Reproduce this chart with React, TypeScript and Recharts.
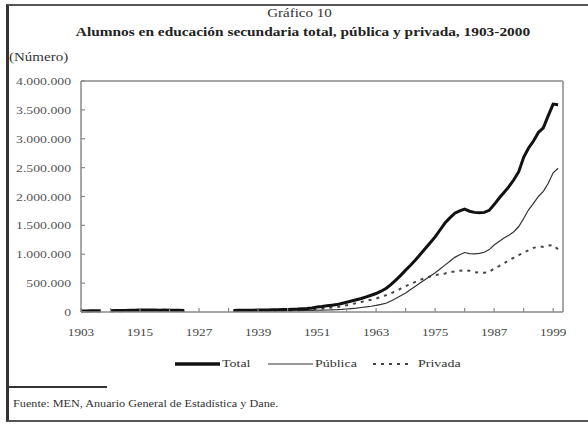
import { LineChart, Line, XAxis, YAxis, ReferenceLine } from "recharts";

const START_YEAR = 1903;

// Alumnos por año, 1903-2000 (null = sin dato)
const total = [
  18000, 19000, 20000, 21000, 20000, null,
  22000, 24000, 26000, 28000, 30000, 32000, 33000, 34000, 34000, 33000, 32000, 33000, 32000, 30000, 29000, 28000,
  null, null, null, null, null, null, null, null, null,
  28000, 29000, 30000, 31000, 32000, 33000, 34000, 36000, 38000, 40000, 42000, 45000, 48000, 50000, 55000, 60000, 70000,
  85000, 95000, 108000, 118000, 128000, 148000, 169000, 190000, 212000, 233000,
  262000, 290000, 320000, 360000, 407000, 475000, 551000, 635000, 725000, 810000,
  899000, 1000000, 1100000, 1200000, 1300000, 1420000, 1540000, 1630000, 1710000, 1750000,
  1780000, 1745000, 1725000, 1720000, 1725000, 1760000, 1860000, 1970000, 2070000, 2170000,
  2290000, 2430000, 2680000, 2840000, 2960000, 3110000, 3190000, 3400000, 3600000, 3590000,
];

const publica = [
  8000, 8500, 9000, 9500, 9000, null,
  10000, 11000, 12000, 13000, 14000, 15000, 15000, 16000, 16000, 15000, 15000, 15000, 15000, 14000, 13000, 13000,
  null, null, null, null, null, null, null, null, null,
  12000, 12000, 13000, 13000, 14000, 14000, 15000, 16000, 17000, 18000, 19000, 20000, 21000, 22000, 24000, 26000, 28000,
  30000, 32000, 35000, 38000, 40000, 45000, 52000, 60000, 68000, 78000,
  88000, 100000, 115000, 132000, 152000, 190000, 233000, 280000, 330000, 388000,
  447000, 505000, 563000, 620000, 678000, 745000, 812000, 880000, 946000, 990000,
  1030000, 1010000, 1005000, 1015000, 1035000, 1080000, 1160000, 1220000, 1280000, 1330000,
  1390000, 1480000, 1620000, 1770000, 1880000, 2000000, 2090000, 2230000, 2410000, 2490000,
];

const privada = [
  10000, 10500, 11000, 11500, 11000, null,
  12000, 13000, 14000, 15000, 16000, 17000, 18000, 18000, 18000, 18000, 17000, 18000, 17000, 16000, 16000, 15000,
  null, null, null, null, null, null, null, null, null,
  16000, 17000, 17000, 18000, 18000, 19000, 19000, 20000, 21000, 22000, 23000, 25000, 27000, 28000, 31000, 34000, 42000,
  52000, 60000, 70000, 78000, 85000, 100000, 117000, 135000, 155000, 174000,
  194000, 213000, 233000, 262000, 290000, 325000, 360000, 403000, 447000, 485000,
  522000, 557000, 591000, 615000, 638000, 653000, 668000, 686000, 703000, 715000,
  725000, 713000, 690000, 680000, 678000, 696000, 755000, 795000, 842000, 899000,
  939000, 986000, 1030000, 1070000, 1110000, 1130000, 1130000, 1150000, 1160000, 1085000,
];

const xTicks = [1903, 1909, 1915, 1921, 1927, 1933, 1939, 1945, 1951, 1957, 1963, 1969, 1975, 1981, 1987, 1993, 1999];
const yTicks = [0, 500000, 1000000, 1500000, 2000000, 2500000, 3000000, 3500000, 4000000];

const data = total.map((t, i) => ({
  year: START_YEAR + i,
  total: t,
  publica: publica[i],
  privada: privada[i],
}));

const FONT = '"Liberation Serif", "Times New Roman", serif';
const AXIS = "#8a8a8a";

const fmt = (v: number) => String(v).replace(/\B(?=(\d{3})+(?!\d))/g, ".");

// the scanned original is stretched sideways, so text gets a scaleX
const XTick = ({ x, y, payload }: any) => (
  <g>
    <line x1={x} x2={x} y1={y} y2={y - 4} stroke={AXIS} strokeWidth={1.2} />
    {(payload.value - START_YEAR) % 12 === 0 && (
      <text
        transform={`translate(${x},${y + 24}) scale(1.2,1)`}
        textAnchor="middle"
        fontFamily={FONT}
        fontSize={11}
        fill="#444"
      >
        {payload.value}
      </text>
    )}
  </g>
);

const YTick = ({ x, y, payload }: any) => (
  <g>
    <line x1={x} x2={x + 4} y1={y} y2={y} stroke={AXIS} strokeWidth={1.2} />
    <text
      transform={`translate(${x - 10},${y + 4}) scale(1.25,1)`}
      textAnchor="end"
      fontFamily={FONT}
      fontSize={11}
      fill="#555"
    >
      {fmt(payload.value)}
    </text>
  </g>
);

const txt = (extra: React.CSSProperties, sx = 1.25, origin = "left"): React.CSSProperties => ({
  position: "absolute",
  fontFamily: FONT,
  color: "#333",
  whiteSpace: "nowrap",
  transform: `scaleX(${sx})`,
  transformOrigin: origin,
  ...extra,
});

export default function App() {
  return (
    <div style={{ position: "relative", width: 588, height: 424, background: "#fff", overflow: "hidden" }}>
      <style>{"body{margin:0}"}</style>
      <div
        style={{
          position: "absolute",
          left: 6,
          top: 4,
          width: 600,
          height: 414,
          borderLeft: "3px solid #333",
          borderTop: "2px solid #555",
          borderBottom: "2px solid #555",
        }}
      />
      <div style={txt({ left: 0, width: 599, top: 6, textAlign: "center", fontSize: 12 }, 1.25, "center")}>Gráfico 10</div>
      <div
        style={txt(
          { left: 0, width: 606, top: 25, textAlign: "center", fontSize: 12.3, fontWeight: "bold", color: "#222" },
          1.25,
          "center"
        )}
      >
        Alumnos en educación secundaria total, pública y privada, 1903-2000
      </div>
      <div style={txt({ left: 9, top: 50, fontSize: 12 })}>(Número)</div>

      <div style={{ position: "absolute", left: 0, top: 0 }}>
        <LineChart width={588} height={424} data={data} margin={{ top: 81, right: 25, bottom: 82, left: 11 }}>
          <XAxis
            dataKey="year"
            type="number"
            domain={[1903, 2001]}
            ticks={xTicks}
            interval={0}
            height={30}
            tickSize={0}
            tickMargin={0}
            tickLine={false}
            axisLine={{ stroke: AXIS, strokeWidth: 1.5 }}
            tick={<XTick />}
          />
          <YAxis
            domain={[0, 4000000]}
            ticks={yTicks}
            interval={0}
            width={70}
            tickSize={0}
            tickMargin={0}
            tickLine={false}
            axisLine={{ stroke: AXIS, strokeWidth: 1.5 }}
            tick={<YTick />}
          />
          <ReferenceLine y={4000000} stroke={AXIS} strokeWidth={1.5} />
          <ReferenceLine x={2001} stroke={AXIS} strokeWidth={1.5} />
          <Line dataKey="privada" stroke="#444" strokeWidth={2} strokeDasharray="3 5" dot={false} isAnimationActive={false} />
          <Line dataKey="publica" stroke="#333" strokeWidth={1.2} dot={false} isAnimationActive={false} />
          <Line dataKey="total" stroke="#111" strokeWidth={3} dot={false} isAnimationActive={false} />
        </LineChart>
      </div>

      {/* leyenda */}
      <svg style={{ position: "absolute", left: 0, top: 355 }} width={588} height={18}>
        <line x1={175} x2={220} y1={9} y2={9} stroke="#111" strokeWidth={3.5} />
        <line x1={268} x2={313} y1={9} y2={9} stroke="#333" strokeWidth={1.2} />
        <line x1={373} x2={413} y1={9} y2={9} stroke="#444" strokeWidth={2} strokeDasharray="3 5" />
      </svg>
      <div style={txt({ left: 222, top: 357, fontSize: 11 }, 1.27)}>Total</div>
      <div style={txt({ left: 315, top: 357, fontSize: 11 }, 1.27)}>Pública</div>
      <div style={txt({ left: 418, top: 357, fontSize: 11 }, 1.27)}>Privada</div>

      <div style={{ position: "absolute", left: 9, top: 386, width: 98, height: 2, background: "#333" }} />
      <div style={txt({ left: 13, top: 398, fontSize: 10 }, 1.22)}>Fuente: MEN, Anuario General de Estadística y Dane.</div>
    </div>
  );
}
